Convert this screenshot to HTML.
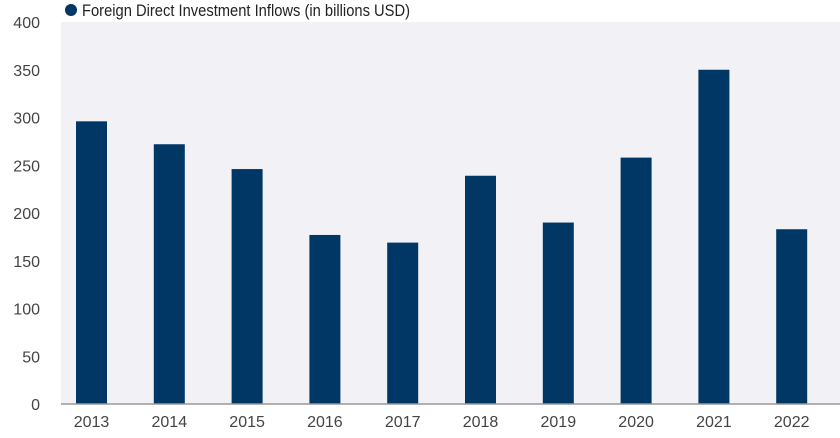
<!DOCTYPE html>
<html><head><meta charset="utf-8"><style>
body{margin:0;background:#fff;width:840px;height:433px;overflow:hidden;font-family:"Liberation Sans",sans-serif;}
</style></head><body>
<svg id="chart" width="840" height="433" xmlns="http://www.w3.org/2000/svg" font-family="Liberation Sans, sans-serif">
<rect x="61" y="22" width="779" height="382" fill="#f1f1f6"/>
<g>
<circle cx="71" cy="10" r="6" fill="#003764"/>
<text x="82" y="16" font-size="17" fill="#222" textLength="328" lengthAdjust="spacingAndGlyphs">Foreign Direct Investment Inflows (in billions USD)</text>
</g>
<g id="yticks"></g><g id="bars"></g><g id="xticks"></g>
<line x1="61" y1="404" x2="840" y2="404" stroke="#999" stroke-width="1.5"/>
</svg>
<script>
const categories=["2013","2014","2015","2016","2017","2018","2019","2020","2021","2022"];
const values=[296,272,246,177,169,239,190,258,350,183];
const yTicks=[0,50,100,150,200,250,300,350,400];
const NS="http://www.w3.org/2000/svg";
const y0=404,y1=22,yMax=400;
function y(v){return y0-(v/yMax)*(y0-y1);}
function xLeft(i){return 76+i*77.8;}
const bw=31;
const yg=document.getElementById('yticks'),bg=document.getElementById('bars'),xg=document.getElementById('xticks');
yTicks.forEach(t=>{const e=document.createElementNS(NS,'text');


e.setAttribute('x',40);e.setAttribute('y',y(t)+6);e.setAttribute('text-anchor','end');e.setAttribute('font-size','16');e.setAttribute('fill','#444');e.textContent=t;yg.appendChild(e);});
categories.forEach((c,i)=>{const r=document.createElementNS(NS,'rect');


r.setAttribute('x',xLeft(i));r.setAttribute('y',y(values[i]));r.setAttribute('width',bw);r.setAttribute('height',y0-y(values[i]));r.setAttribute('fill','#003764');bg.appendChild(r);
const t=document.createElementNS(NS,'text');


t.setAttribute('x',xLeft(i)+bw/2);t.setAttribute('y',427);t.setAttribute('text-anchor','middle');t.setAttribute('font-size','16');t.setAttribute('fill','#444');t.textContent=c;xg.appendChild(t);});
</script>
</body></html>
